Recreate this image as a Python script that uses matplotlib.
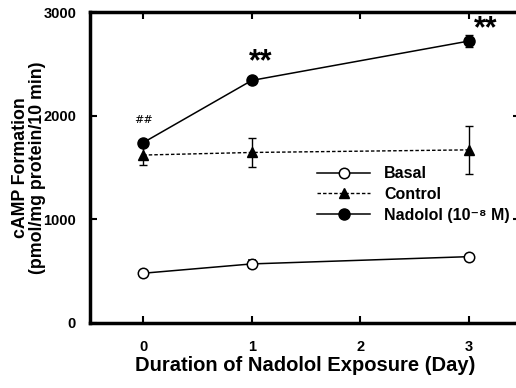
import matplotlib
matplotlib.use("Agg")
import matplotlib.pyplot as plt
from matplotlib.lines import Line2D

plt.rcParams['font.family'] = ['Liberation Sans', 'DejaVu Sans']

# data
days = [0, 1, 3]
basal = [480, 570, 640]
basal_err = [25, 35, 20]
control = [1620, 1645, 1670]
control_err = [100, 140, 235]
nadolol = [1740, 2340, 2720]
nadolol_err = [30, 20, 60]

fig = plt.figure(figsize=(5.16, 3.88), dpi=100)
ax = fig.add_axes([90/516, 1 - 323/388, 430/516, 311/388])

dash = (0, (2.5, 1.5))
ax.errorbar(days, basal, yerr=basal_err, color="black", lw=1.1, marker="o",
            ms=7.5, mfc="white", mec="black", mew=1.1, capsize=3, elinewidth=1)
ax.errorbar(days, control, yerr=control_err, color="black", lw=1, ls=dash,
            marker="^", ms=7.5, mfc="black", capsize=3, elinewidth=1)
ax.errorbar(days, nadolol, yerr=nadolol_err, color="black", lw=1.1, marker="o",
            ms=8, mfc="black", capsize=3, elinewidth=1)

ax.text(0, 1960, "##", family="DejaVu Serif", fontsize=8, ha="center", va="center")
ax.text(1.08, 2520, "**", fontsize=22, fontweight="bold", ha="center", va="center")
ax.text(3.15, 2830, "**", fontsize=22, fontweight="bold", ha="center", va="center")

ax.set_xlim(-0.49, 3.47)
ax.set_ylim(0, 3000)
ax.set_xticks([0, 1, 2, 3])
ax.set_yticks([0, 1000, 2000, 3000])
ax.tick_params(direction="in", top=True, right=True, length=5, width=1.5,
               labelsize=10.5)
ax.tick_params(axis="x", pad=12)
ax.tick_params(axis="y", pad=10)
for lab in ax.get_xticklabels() + ax.get_yticklabels():
    lab.set_fontweight("bold")
for s in ax.spines.values():
    s.set_linewidth(2.5)

ax.set_xlabel("Duration of Nadolol Exposure (Day)", fontsize=14.5,
              fontweight="bold", labelpad=2)
ax.set_ylabel("cAMP Formation\n(pmol/mg protein/10 min)", fontsize=12.8,
              fontweight="bold", linespacing=1.0)
ax.yaxis.set_label_coords(-0.102, 0.5)

handles = [
    Line2D([], [], color="black", lw=1.1, marker="o", ms=7.5, mfc="white", mew=1.1),
    Line2D([], [], color="black", lw=1, ls=dash, marker="^", ms=7.5, mfc="black"),
    Line2D([], [], color="black", lw=1.1, marker="o", ms=8, mfc="black"),
]
labels = ["Basal", "Control", "Nadolol (10\u207b\u2078 M)"]
leg = ax.legend(handles, labels, loc="upper left", bbox_to_anchor=(0.495, 0.55),
                frameon=False, fontsize=11.5, handlelength=3.3, handletextpad=0.9,
                labelspacing=0.35)
for t in leg.get_texts():
    t.set_fontweight("bold")

fig.savefig("out.png", dpi=100)
